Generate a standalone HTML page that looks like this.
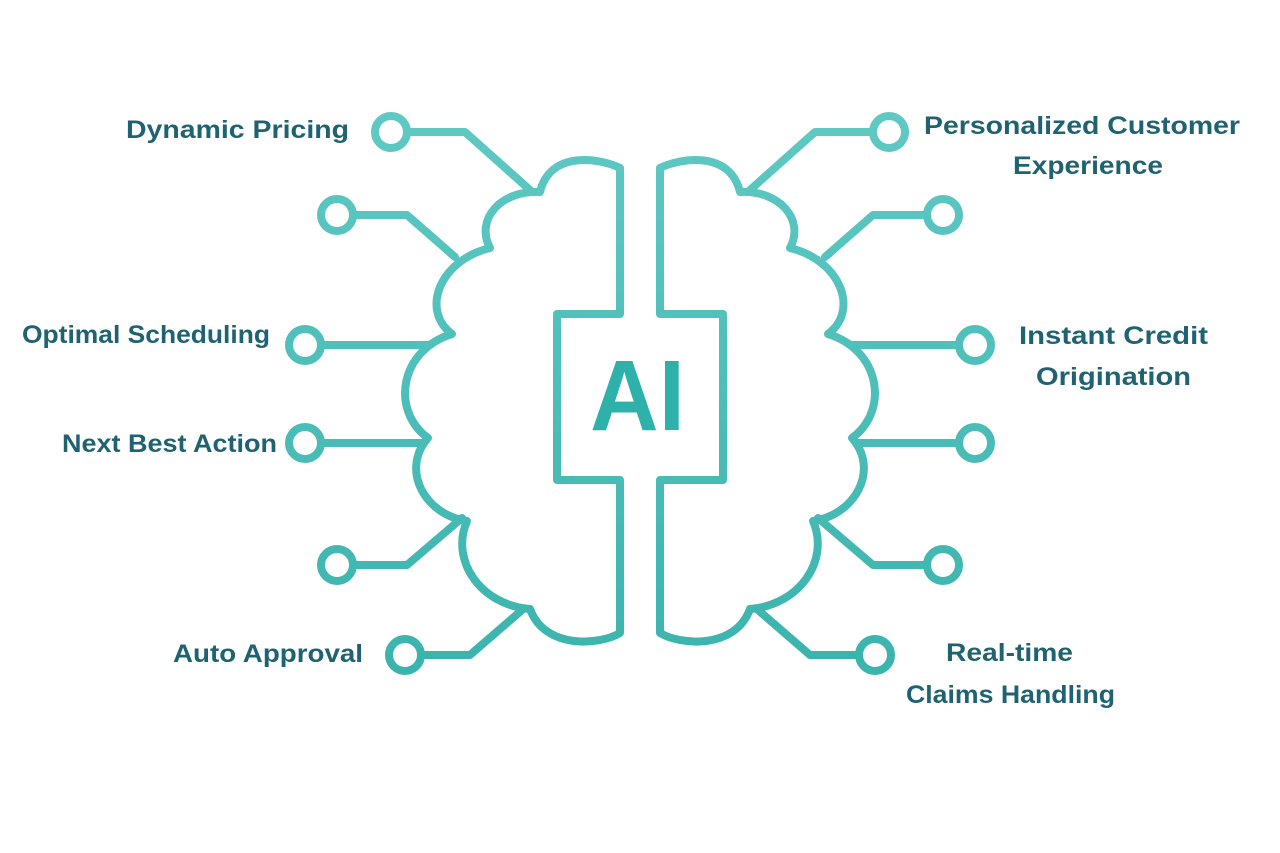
<!DOCTYPE html>
<html><head><meta charset="utf-8"><style>
html,body{margin:0;padding:0;background:#fff;}
svg{display:block}
text{font-family:"Liberation Sans",sans-serif;font-weight:bold;fill:#1f6271;font-size:25px}
</style></head><body>
<svg width="1280" height="853" viewBox="0 0 1280 853" xmlns="http://www.w3.org/2000/svg">
<defs>
<linearGradient id="g" x1="0" y1="130" x2="0" y2="660" gradientUnits="userSpaceOnUse">
<stop offset="0" stop-color="#5ec8c3"/><stop offset="1" stop-color="#3cb4ae"/>
</linearGradient>
<g id="half" fill="none" stroke="url(#g)" stroke-width="8" stroke-linejoin="round" stroke-linecap="round">
<path d="M620,168 C600,158 550,150 540,192 C500,190 475,220 490,248 C440,260 420,310 452,334 C400,350 390,410 428,438 C400,470 425,515 467,521 C450,560 480,605 530,609 C545,650 600,645 620,633 L620,480 L557,480 L557,314 L620,314 Z"/>
<circle cx="391" cy="132" r="16"/>
<path d="M407,132 L465,132 L530,190"/>
<circle cx="337" cy="215" r="16"/>
<path d="M353,215 L407,215 L455,257"/>
<circle cx="305" cy="345" r="16"/>
<path d="M321,345 L430,345"/>
<circle cx="305" cy="443" r="16"/>
<path d="M321,443 L424,443"/>
<circle cx="337" cy="565" r="16"/>
<path d="M353,565 L407,565 L462,518"/>
<circle cx="405" cy="655" r="16"/>
<path d="M421,655 L470,655 L522,610"/>
</g>
</defs>
<rect width="1280" height="853" fill="#fff"/>
<use href="#half"/>
<use href="#half" transform="translate(1280,0) scale(-1,1)"/>
<text x="590" y="430" font-size="100" textLength="95" lengthAdjust="spacingAndGlyphs" style="fill:#2fb1ab;font-size:100px">AI</text>
<text x="126" y="138" textLength="223" lengthAdjust="spacingAndGlyphs">Dynamic Pricing</text>
<text x="22" y="343" textLength="248" lengthAdjust="spacingAndGlyphs">Optimal Scheduling</text>
<text x="62" y="452" textLength="215" lengthAdjust="spacingAndGlyphs">Next Best Action</text>
<text x="173" y="662" textLength="190" lengthAdjust="spacingAndGlyphs">Auto Approval</text>
<text x="924" y="134" textLength="316" lengthAdjust="spacingAndGlyphs">Personalized Customer</text>
<text x="1013" y="174" textLength="150" lengthAdjust="spacingAndGlyphs">Experience</text>
<text x="1019" y="344" textLength="189" lengthAdjust="spacingAndGlyphs">Instant Credit</text>
<text x="1036" y="385" textLength="155" lengthAdjust="spacingAndGlyphs">Origination</text>
<text x="946" y="661" textLength="127" lengthAdjust="spacingAndGlyphs">Real-time</text>
<text x="906" y="703" textLength="209" lengthAdjust="spacingAndGlyphs">Claims Handling</text>
</svg>
</body></html>
